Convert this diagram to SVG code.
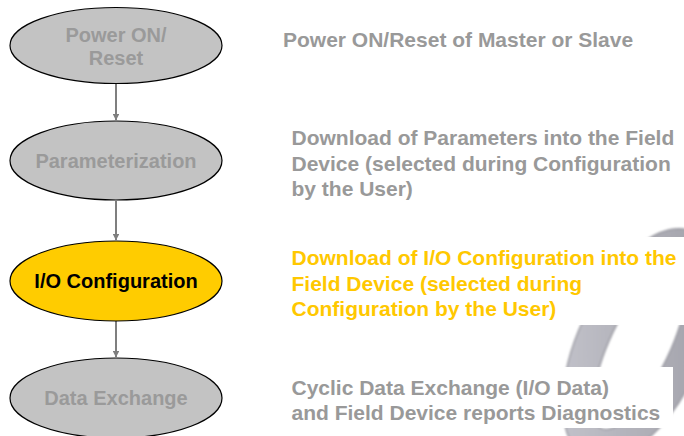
<svg xmlns="http://www.w3.org/2000/svg" width="684" height="436" viewBox="0 0 684 436">
  <style>
    .node { stroke: #000; stroke-width: 1.2; }
    .grey { fill: #c3c3c3; }
    .gold { fill: #ffcc00; }
    .lbl { font-family: "Liberation Sans", Arial, sans-serif; font-weight: bold; font-size: 20px; text-anchor: middle; }
    .lbl-grey { fill: #9a9a9a; }
    .lbl-dark { fill: #000; }
    .desc { font-family: "Liberation Sans", Arial, sans-serif; font-weight: bold; font-size: 21px; }
    .desc-grey { fill: #999999; }
    .desc-gold { fill: #ffc800; }
    .link { stroke: #7f7f7f; stroke-width: 2; fill: none; marker-end: url(#head); }
  </style>
  <defs>
    <marker id="head" viewBox="0 0 8 8" refX="7.5" refY="4" markerWidth="3.2" markerHeight="3.2" orient="auto" markerUnits="strokeWidth">
      <path d="M0,0 L8,4 L0,8 Z" fill="#7f7f7f"/>
    </marker>
    <linearGradient id="ringShade" x1="0" y1="0" x2="1" y2="1">
      <stop offset="0" stop-color="#c8c8d0"/>
      <stop offset="0.5" stop-color="#b0b0b8"/>
      <stop offset="1" stop-color="#9a9aa3"/>
    </linearGradient>
    <filter id="soft" x="-10%" y="-10%" width="120%" height="120%">
      <feGaussianBlur stdDeviation="1.2"/>
    </filter>
  </defs>

  <rect width="684" height="436" fill="#fff"/>

  <!-- decorative O-ring behind the descriptions -->
  <g id="ring" filter="url(#soft)">
    <path transform="translate(640,345) rotate(-65)" fill="url(#ringShade)" fill-rule="evenodd"
          stroke="#9a9aa2" stroke-width="1.5"
          d="M-125,0 A125,62 0 1,0 125,0 A125,62 0 1,0 -125,0 Z M-92,0 A92,30 0 1,1 92,0 A92,30 0 1,1 -92,0 Z"/>
  </g>

  <!-- white panels under the description texts -->
  <rect x="280" y="237" width="404" height="88" fill="#fff"/>
  <rect x="280" y="367" width="393" height="61" fill="#fff"/>

  <!-- connectors -->
  <g id="connectors">
    <line class="link" x1="116" y1="84" x2="116" y2="120"/>
    <line class="link" x1="116" y1="201" x2="116" y2="240"/>
    <line class="link" x1="116" y1="321" x2="116" y2="357"/>
  </g>

  <!-- state nodes -->
  <g id="power-on">
    <ellipse class="node grey" cx="116" cy="45.5" rx="106" ry="38"/>
    <text class="lbl lbl-grey" x="116" y="42">Power ON/</text>
    <text class="lbl lbl-grey" x="116" y="65">Reset</text>
  </g>
  <g id="parameterization">
    <ellipse class="node grey" cx="116" cy="160.5" rx="106" ry="39.5"/>
    <text class="lbl lbl-grey" x="116" y="168">Parameterization</text>
  </g>
  <g id="io-configuration">
    <ellipse class="node gold" cx="116" cy="281" rx="106" ry="40"/>
    <text class="lbl lbl-dark" x="116" y="288">I/O Configuration</text>
  </g>
  <g id="data-exchange">
    <ellipse class="node grey" cx="116" cy="398" rx="106" ry="40"/>
    <text class="lbl lbl-grey" x="116" y="405">Data Exchange</text>
  </g>

  <!-- descriptions -->
  <g id="desc-power-on">
    <text class="desc desc-grey" x="283" y="47">Power ON/Reset of Master or Slave</text>
  </g>
  <g id="desc-parameterization">
    <text class="desc desc-grey" x="291.5" y="145">Download of Parameters into the Field</text>
    <text class="desc desc-grey" x="291.5" y="170.5">Device (selected during Configuration</text>
    <text class="desc desc-grey" x="291.5" y="196">by the User)</text>
  </g>
  <g id="desc-io-configuration">
    <text class="desc desc-gold" x="291.5" y="265">Download of I/O Configuration into the</text>
    <text class="desc desc-gold" x="291.5" y="290.5">Field Device (selected during</text>
    <text class="desc desc-gold" x="291.5" y="316">Configuration by the User)</text>
  </g>
  <g id="desc-data-exchange">
    <text class="desc desc-grey" x="291.5" y="394.5">Cyclic Data Exchange (I/O Data)</text>
    <text class="desc desc-grey" x="291.5" y="420">and Field Device reports Diagnostics</text>
  </g>
</svg>
